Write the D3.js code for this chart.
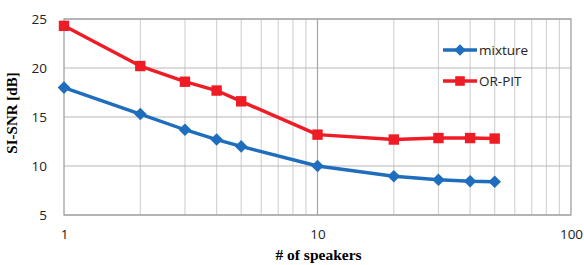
<!DOCTYPE html>
<html><head><meta charset="utf-8">
<script src="https://cdn.jsdelivr.net/npm/d3@7"></script>
<style>body{margin:0;background:#fff}svg{display:block}</style>
</head><body>
<script>
const speakers = [1, 2, 3, 4, 5, 10, 20, 30, 40, 50];
const mixture = [18.0, 15.3, 13.7, 12.7, 12.0, 10.0, 8.95, 8.6, 8.45, 8.4];
const orpit = [24.3, 20.2, 18.6, 17.7, 16.6, 13.2, 12.7, 12.85, 12.85, 12.8];
const yTicks = [5, 10, 15, 20, 25];
const xTicks = [1, 10, 100];
const seriesNames = ["mixture", "OR-PIT"];
const colors = ["#1f6dbd", "#ee1c25"];

const W = 584, H = 265;
const svg = d3.select("body").append("svg").attr("width", W).attr("height", H);
const x = d3.scaleLog().domain([1, 100]).range([64, 571]);
const y = d3.scaleLinear().domain([5, 25]).range([215, 19]);

const diamond = r => `M0,${-r}L${r},0L0,${r}L${-r},0Z`;
const square = r => `M${-r},${-r}H${r}V${r}H${-r}Z`;

// grid verticals
const minor = [];
for (let d = 1; d <= 10; d *= 10) for (let k = 2; k <= 9; k++) minor.push(k * d);
svg.append("g").selectAll("line").data(minor).join("line")
  .attr("x1", d => x(d)).attr("x2", d => x(d)).attr("y1", y(25)).attr("y2", y(5))
  .attr("stroke", "#d4d4d4").attr("stroke-width", 1.2);
svg.append("g").selectAll("line").data(yTicks).join("line")
  .attr("x1", x(1)).attr("x2", x(100)).attr("y1", d => y(d)).attr("y2", d => y(d))
  .attr("stroke", "#b8b8b8").attr("stroke-width", 1.2);
svg.append("line").attr("x1", x(10)).attr("x2", x(10)).attr("y1", y(25)).attr("y2", y(5))
  .attr("stroke", "#a6a6a6").attr("stroke-width", 1.2);
svg.append("rect").attr("x", x(1)).attr("y", y(25)).attr("width", x(100) - x(1)).attr("height", y(5) - y(25))
  .attr("fill", "none").attr("stroke", "#a0a0a0").attr("stroke-width", 1.3);

// axes labels
const yAxis = d3.axisLeft(y).tickValues(yTicks).tickSize(0).tickPadding(17);
const gy = svg.append("g").attr("transform", `translate(${x(1)},0)`).call(yAxis);
gy.select(".domain").remove();
gy.selectAll("text").attr("font-family", "Open Sans, sans-serif").attr("font-size", 13.5).attr("fill", "#222");
const xAxis = d3.axisBottom(x).tickValues(xTicks).tickFormat(d3.format("d")).tickSize(0).tickPadding(14);
const gx = svg.append("g").attr("transform", `translate(0,${y(5)})`).call(xAxis);
gx.select(".domain").remove();
gx.selectAll("text").attr("font-family", "Open Sans, sans-serif").attr("font-size", 13.5).attr("fill", "#222");

svg.append("text").attr("x", (x(1) + x(100)) / 2 + 1).attr("y", 260).attr("text-anchor", "middle")
  .attr("font-family", "Liberation Serif, serif").attr("font-weight", "bold").attr("font-size", 15.5)
  .text("# of speakers");
svg.append("text").attr("transform", "translate(17,113) rotate(-90)").attr("text-anchor", "middle")
  .attr("font-family", "Liberation Serif, serif").attr("font-weight", "bold").attr("font-size", 15)
  .text("SI-SNR [dB]");

const line = d3.line().x(d => x(d[0])).y(d => y(d[1]));
const data = [mixture, orpit];
data.forEach((vals, i) => {
  const pts = speakers.map((s, j) => [s, vals[j]]);
  svg.append("path").attr("d", line(pts)).attr("fill", "none").attr("stroke", colors[i]).attr("stroke-width", 3.4).attr("stroke-linejoin", "round");
  svg.append("g").selectAll("path").data(pts).join("path")
    .attr("transform", d => `translate(${x(d[0])},${y(d[1])})`)
    .attr("d", i === 0 ? diamond(6.3) : square(5.2))
    .attr("fill", colors[i]);
});

// legend
seriesNames.forEach((n, i) => {
  const ly = 50 + i * 31;
  const g = svg.append("g");
  g.append("line").attr("x1", 443).attr("x2", 477).attr("y1", ly).attr("y2", ly).attr("stroke", colors[i]).attr("stroke-width", 3.4);
  g.append("path").attr("transform", `translate(460,${ly})`)
    .attr("d", i === 0 ? diamond(5.8) : square(4.8))
    .attr("fill", colors[i]);
  g.append("text").attr("x", 479).attr("y", ly + 5).attr("font-family", "Open Sans, sans-serif").attr("font-size", 13.5).attr("fill", "#222").text(n);
});
</script>
</body></html>
